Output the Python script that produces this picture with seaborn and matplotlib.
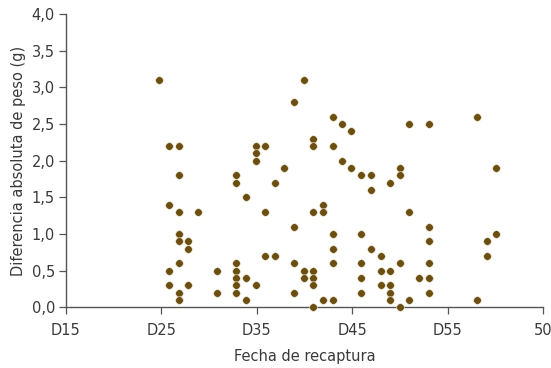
import matplotlib
matplotlib.use("Agg")
import matplotlib.pyplot as plt
import seaborn as sns
import pandas as pd

# Data
x_dias = [
    9.8,
    10.8, 10.8, 10.8, 10.8,
    11.8, 11.8, 11.8, 11.8, 11.8, 11.8, 11.8, 11.8,
    12.8, 12.8, 12.8,
    13.8,
    15.8, 15.8,
    17.85, 17.85, 17.85, 17.85, 17.85, 17.85, 17.85,
    18.9, 18.9, 18.9,
    19.9, 19.9, 19.9, 19.9,
    20.9, 20.9, 20.9,
    21.9, 21.9,
    22.9,
    23.85, 23.85, 23.85, 23.85,
    24.9, 24.9, 24.9,
    25.9, 25.9, 25.9, 25.9, 25.9, 25.9, 25.9,
    26.9, 26.9, 26.9,
    27.95, 27.95, 27.95, 27.95, 27.95, 27.95,
    28.9, 28.9,
    29.9, 29.9,
    30.9, 30.9, 30.9, 30.9, 30.9,
    31.95, 31.95, 31.95,
    33.0, 33.0, 33.0,
    34.0, 34.0, 34.0, 34.0, 34.0,
    35.0, 35.0, 35.0, 35.0,
    36.0, 36.0, 36.0,
    37.0,
    38.0, 38.0, 38.0, 38.0, 38.0, 38.0,
    43.1, 43.1,
    44.1, 44.1,
    45.1, 45.1,
]
diferencia_peso = [
    3.1,
    2.2, 1.4, 0.5, 0.3,
    2.2, 1.8, 1.3, 1.0, 0.9, 0.6, 0.2, 0.1,
    0.9, 0.8, 0.3,
    1.3,
    0.5, 0.2,
    1.8, 1.7, 0.6, 0.5, 0.4, 0.3, 0.2,
    1.5, 0.4, 0.1,
    2.2, 2.1, 2.0, 0.3,
    2.2, 1.3, 0.7,
    1.7, 0.7,
    1.9,
    2.8, 1.1, 0.6, 0.2,
    3.1, 0.5, 0.4,
    2.3, 2.2, 1.3, 0.5, 0.4, 0.3, 0.0,
    1.4, 1.3, 0.1,
    2.6, 2.2, 1.0, 0.8, 0.6, 0.1,
    2.5, 2.0,
    2.4, 1.9,
    1.8, 1.0, 0.6, 0.4, 0.2,
    1.8, 1.6, 0.8,
    0.7, 0.5, 0.3,
    1.7, 0.5, 0.3, 0.2, 0.1,
    1.9, 1.8, 0.6, 0.0,
    2.5, 1.3, 0.1,
    0.4,
    2.5, 1.1, 0.9, 0.6, 0.4, 0.2,
    2.6, 0.1,
    0.9, 0.7,
    1.9, 1.0,
]
x_ticks = [0, 10, 20, 30, 40, 50]
x_tick_labels = ["D15", "D25", "D35", "D45", "D55", "50"]
y_ticks = [0.0, 0.5, 1.0, 1.5, 2.0, 2.5, 3.0, 3.5, 4.0]
y_tick_labels = ["0,0", "0,5", "1,0", "1,5", "2,0", "2,5", "3,0", "3,5", "4,0"]

df = pd.DataFrame({"fecha": x_dias, "dif": diferencia_peso})

sns.set_theme(style="ticks")
plt.rcParams["font.family"] = ["DejaVu Sans"]

text_color = "#3a3a3a"
spine_color = "#555555"

fig = plt.figure(figsize=(5.51, 3.68), dpi=100)
ax = fig.add_axes([66 / 551, 1 - 307.3 / 368, (543 - 66) / 551, (307.3 - 14) / 368])

sns.scatterplot(data=df, x="fecha", y="dif", ax=ax, color="#6b4f12",
                s=30, edgecolor="#efe6cf", linewidth=0.4, clip_on=False, zorder=3)

ax.set_xlim(0, 50)
ax.set_ylim(0, 4)
ax.set_xticks(x_ticks)
ax.set_xticklabels(x_tick_labels)
ax.set_yticks(y_ticks)
ax.set_yticklabels(y_tick_labels)

for side in ["top", "right"]:
    ax.spines[side].set_visible(False)
for side in ["left", "bottom"]:
    ax.spines[side].set_color(spine_color)
    ax.spines[side].set_linewidth(1.0)

ax.tick_params(axis="both", colors=spine_color, labelcolor=text_color,
               labelsize=10.5, length=5, width=0.9, direction="out")
ax.tick_params(axis="x", pad=6)
ax.tick_params(axis="y", pad=3)

ax.set_xlabel("Fecha de recaptura", fontsize=10.5, color=text_color, labelpad=8)
ax.set_ylabel("Diferencia absoluta de peso (g)", fontsize=10.5, color=text_color, labelpad=4)

fig.savefig("out.png", dpi=100)
